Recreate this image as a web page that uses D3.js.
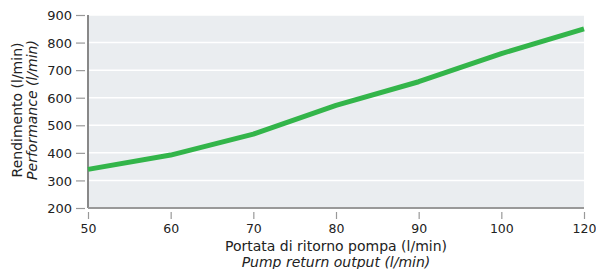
<!DOCTYPE html>
<html>
<head>
<meta charset="utf-8">
<script src="https://cdn.jsdelivr.net/npm/d3@7"></script>
<style>
body { margin: 0; background: #fff; }
svg text { font-family: "DejaVu Sans", sans-serif; fill: #222; }
</style>
</head>
<body>
<div id="chart"></div>
<script>
// data
var flow = [50, 60, 70, 80, 90, 100, 120];
var performance = [340, 392, 468, 572, 658, 760, 850];
var yTicks = [200, 300, 400, 500, 600, 700, 800, 900];

var width = 596, height = 269;
var margin = {left: 88, right: 12, top: 15, bottom: 61};
var plotW = width - margin.left - margin.right;
var plotH = height - margin.top - margin.bottom;

var svg = d3.select("#chart").append("svg")
    .attr("width", width)
    .attr("height", height);

var g = svg.append("g")
    .attr("transform", "translate(" + margin.left + "," + margin.top + ")");

var xScale = d3.scalePoint()
    .domain(flow)
    .range([0, plotW]);

var yScale = d3.scaleLinear()
    .domain([200, 900])
    .range([plotH, 0]);

// background
g.append("rect")
    .attr("width", plotW)
    .attr("height", plotH)
    .attr("fill", "#eaedf0");

// white gridlines
g.selectAll(".grid")
    .data(yTicks.slice(1))
    .enter().append("line")
    .attr("class", "grid")
    .attr("x1", 0)
    .attr("x2", plotW)
    .attr("y1", function(d) { return yScale(d); })
    .attr("y2", function(d) { return yScale(d); })
    .attr("stroke", "#fff")
    .attr("stroke-width", 1.5);

var yAxis = d3.axisLeft(yScale)
    .tickValues(yTicks)
    .tickSize(9)
    .tickPadding(4);

var xAxis = d3.axisBottom(xScale)
    .tickSize(7)
    .tickPadding(5);

var ya = g.append("g")
    .attr("transform", "translate(-3,0)")
    .call(yAxis);
ya.select(".domain").remove();
ya.selectAll("line").attr("stroke", "#999").attr("stroke-width", 1.2);
ya.selectAll("text").attr("font-size", "13px").attr("dy", "0.36em");

var xa = g.append("g")
    .attr("transform", "translate(0," + (plotH + 4) + ")")
    .call(xAxis);
xa.select(".domain").remove();
xa.selectAll("line").attr("stroke", "#999").attr("stroke-width", 1.2);
xa.selectAll("text").attr("font-size", "12.5px");

// axis lines
g.append("line")
    .attr("x1", 0).attr("x2", 0)
    .attr("y1", 0).attr("y2", plotH)
    .attr("stroke", "#888").attr("stroke-width", 2);
g.append("line")
    .attr("x1", 0).attr("x2", plotW)
    .attr("y1", plotH).attr("y2", plotH)
    .attr("stroke", "#999").attr("stroke-width", 2);

// the curve
var line = d3.line()
    .x(function(d, i) { return xScale(flow[i]); })
    .y(function(d) { return yScale(d); });

g.append("path")
    .datum(performance)
    .attr("d", line)
    .attr("fill", "none")
    .attr("stroke", "#33b54a")
    .attr("stroke-width", 5)
    .attr("stroke-linejoin", "round");

// axis titles
svg.append("text")
    .attr("text-anchor", "middle")
    .attr("x", 336).attr("y", 251)
    .attr("font-size", "14px")
    .text("Portata di ritorno pompa (l/min)");
svg.append("text")
    .attr("text-anchor", "middle")
    .attr("x", 336).attr("y", 267)
    .attr("font-size", "14px")
    .attr("font-style", "italic")
    .text("Pump return output (l/min)");

svg.append("text")
    .attr("text-anchor", "middle")
    .attr("transform", "translate(22,110)rotate(-90)")
    .attr("font-size", "14px")
    .text("Rendimento (l/min)");
svg.append("text")
    .attr("text-anchor", "middle")
    .attr("transform", "translate(37,110)rotate(-90)")
    .attr("font-size", "14px")
    .attr("font-style", "italic")
    .text("Performance (l/min)");
</script>
</body>
</html>
